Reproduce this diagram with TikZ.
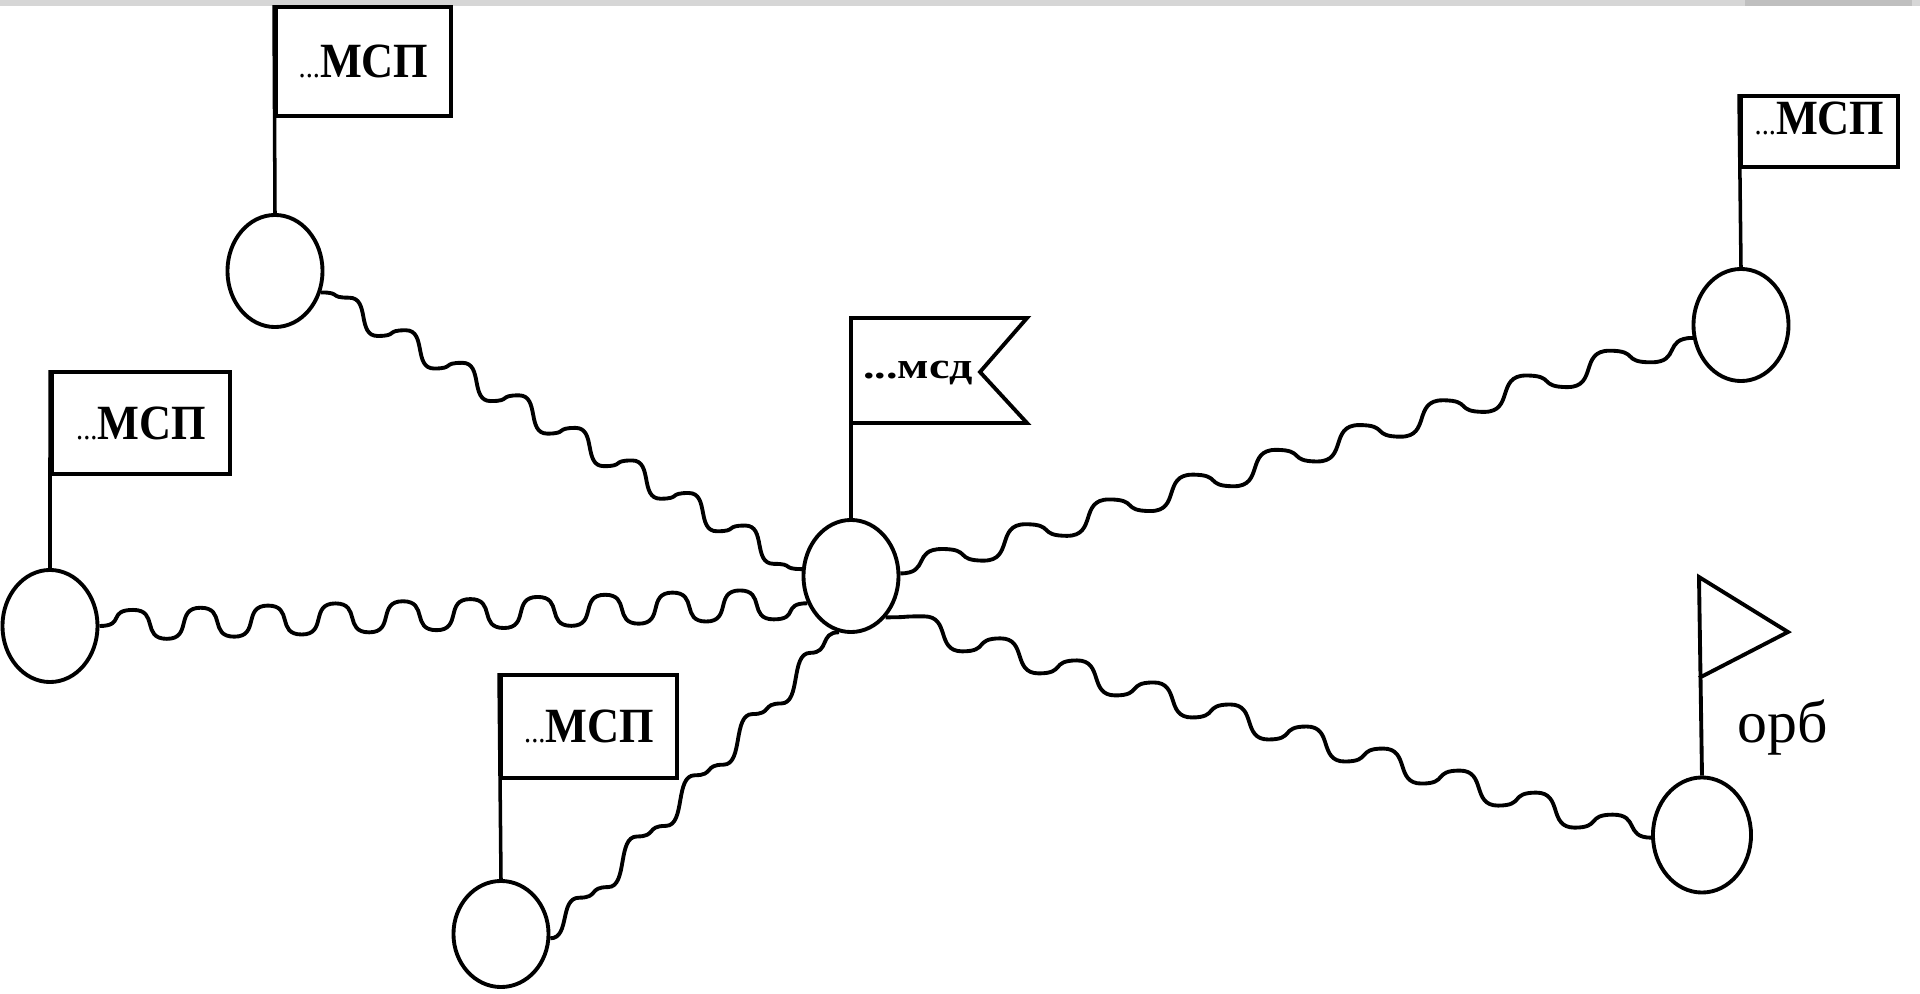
\documentclass[tikz,border=0pt]{standalone}
\usepackage{fontspec}
\usepackage{graphicx}
\setmainfont{Liberation Serif}
\usetikzlibrary{calc,shapes.geometric}
\newcommand\mspText{\scalebox{0.9}[1]{{\fontsize{9}{9}\selectfont...}\textbf{МСП}}}
% #1 start, #2 end, #3 half-periods, #4 amplitude (px), #5 handle length (px)
\newcommand\wavelink[5]{%
  \draw[wave] (#1) \foreach \k [evaluate=\k as \t using \k/#3,
     evaluate=\k as \s using {(1-2*mod(\k,2))*(\k<#3)}] in {1,...,#3}
     { .. controls +(#5,0) and +(-#5,0) .. ($(#1)!\t!(#2)+(0,\s*#4)$) };%
}
\tikzset{
  station/.style={draw, ellipse, line width=1.1pt, inner sep=0pt,
    minimum width=0.95cm, minimum height=1.12cm},
  flagbox/.style={draw, line width=1.1pt, inner sep=0pt,
    font=\fontsize{14}{14}\selectfont},
  wave/.style={line width=1.1pt, line join=round},
  pole/.style={line width=1pt},
}
\begin{document}
\begin{tikzpicture}[x=0.01cm, y=-0.01cm]
\useasboundingbox (0,0) rectangle (1920,994);
% scan bar at top
\fill[black!16] (0,0) rectangle (1920,6);
\fill[black!25] (1745,0) rectangle (1912,6);

% stations
\node[station] (TL) at (275,271) {};
\node[station] (L)  at (50,626) {};
\node[station, minimum height=1.06cm] (B) at (501,934) {};
\node[station] (C)  at (851,576) {};
\node[station] (TR) at (1741,325) {};
\node[station, minimum width=0.98cm, minimum height=1.15cm] (BR) at (1702,835) {};

% rectangular flags
\node[flagbox, minimum width=1.75cm, minimum height=1.09cm] (fTL) at (363.5,61.5) {\mspText};
\node[flagbox, minimum width=1.78cm, minimum height=1.02cm] (fL)  at (141,423) {\mspText};
\node[flagbox, minimum width=1.76cm, minimum height=1.03cm] (fB)  at (589,726.5) {\mspText};
\node[flagbox, minimum width=1.57cm, minimum height=0.71cm, text depth=0.26cm] (fTR) at (1819.5,131.5) {\mspText};
\draw[pole] (TL.north) -- (fTL.north west);
\draw[pole] (L.north)  -- (fL.north west);
\draw[pole] (B.north)  -- (fB.north west);
\draw[pole] (TR.north) -- (fTR.north west);

% swallow-tail flag of the centre
\node[font=\bfseries\fontsize{10.5}{10.5}\selectfont] (fC) at (918,373)
  {\scalebox{1.25}[1]{...мсд}};
\draw[line width=1.1pt, line join=miter] (C.north) -- (851,318) -- (1027,318) -- (980,372) -- (1027,423) -- (851,423);

% triangular flag
\draw[line width=1.1pt, line join=miter] (BR.north) -- (1699,577) -- (1788,632) -- (1699,678);
\node[font=\fontsize{17}{17}\selectfont] (orb) at (1783,727) {орб};

% wavy links
\wavelink{TL.-25}{C.172}{17}{11}{21}
\wavelink{L.0}{C.212}{21}{15}{26}
\wavelink{B.-5}{C.258}{10}{10}{20}
\wavelink{C.3}{TR.195}{19}{12}{30}
\wavelink{C.310}{BR.183}{20}{12}{27}
\end{tikzpicture}
\end{document}
